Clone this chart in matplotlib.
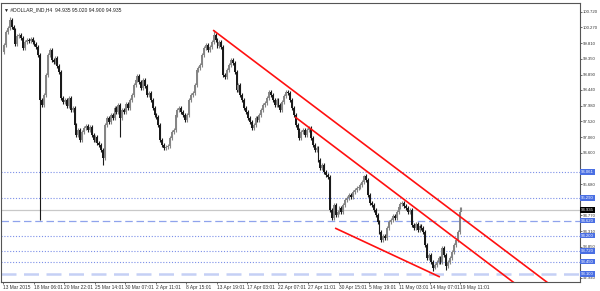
import numpy as np
import matplotlib
matplotlib.use("Agg")
from matplotlib import pyplot as plt
from matplotlib import transforms

plt.rcParams['font.family'] = ['Liberation Sans', 'DejaVu Sans']

# H4 closes, #DOLLAR_IND, 13 Mar 2015 -> 19 May 2015
closes = [99.75, 100.14, 100.25, 100.49, 100.28, 100.19, 99.78, 100.02, 100.05, 99.96,
          99.67, 99.84, 99.90, 99.87, 99.93, 99.84, 99.78, 99.70, 99.46, 98.15,
          98.00, 98.29, 98.88, 99.46, 99.61, 99.32, 99.26, 99.37, 99.14, 98.97,
          98.20, 98.09, 98.15, 97.97, 98.20, 97.85, 97.91, 97.41, 97.12, 97.27,
          96.98, 97.21, 97.33, 97.39, 97.27, 97.36, 97.12, 96.98, 97.06, 96.89,
          96.83, 96.68, 96.45, 97.41, 97.62, 97.50, 97.71, 97.62, 97.91, 97.80,
          98.00, 97.62, 97.85, 97.80, 98.03, 97.91, 98.15, 98.29, 98.58, 98.73,
          98.85, 98.67, 98.50, 98.73, 98.56, 98.29, 98.35, 98.15, 97.91, 97.71,
          97.65, 97.41, 96.98, 96.83, 96.74, 96.77, 96.80, 97.03, 97.21, 97.27,
          97.71, 97.85, 97.91, 97.80, 97.71, 97.56, 97.71, 98.15, 98.29, 98.35,
          98.58, 99.02, 99.08, 99.17, 99.46, 99.67, 99.75, 99.61, 99.70, 99.84,
          100.05, 99.90, 99.73, 99.84, 99.70, 98.88, 98.82, 99.02, 99.17, 99.32,
          99.23, 98.97, 98.44, 98.58, 98.29, 98.15, 97.91, 97.80, 97.62, 97.50,
          97.33, 97.41, 97.62, 97.56, 97.71, 97.85, 98.00, 98.06, 98.20, 98.38,
          98.29, 98.15, 98.00, 98.15, 98.00, 97.85, 98.09, 98.26, 98.38, 98.35,
          98.15, 97.91, 97.71, 97.41, 97.27, 97.03, 97.21, 97.27, 97.12, 97.27,
          97.33, 97.03, 96.83, 96.68, 96.74, 96.39, 96.16, 96.25, 96.04, 95.95,
          95.89, 94.93, 94.69, 95.08, 94.78, 94.87, 94.99, 94.87, 95.08, 95.22,
          95.28, 95.37, 95.31, 95.45, 95.51, 95.57, 95.60, 95.66, 95.75, 95.92,
          95.81, 95.37, 95.13, 95.08, 94.93, 94.78, 94.58, 94.29, 94.05, 94.17,
          94.11, 94.40, 94.58, 94.64, 94.75, 94.69, 94.87, 95.02, 95.10, 95.13,
          95.05, 94.99, 94.87, 94.93, 94.49, 94.40, 94.52, 94.34, 94.46, 94.40,
          94.29, 93.90, 93.52, 93.61, 93.41, 93.24, 93.32, 93.41, 93.52, 93.41,
          93.82, 93.61, 93.29, 93.41, 93.52, 93.70, 93.90, 94.05, 94.29, 94.87,
          94.935]
first_open = 99.55
# bars with long shadows
low_wicks = {19: 94.64, 52: 96.25, 61: 97.06, 225: 93.15, 232: 93.18, 240: 94.90}
high_wicks = {3: 100.57, 110: 100.19, 189: 95.95, 239: 95.02, 240: 95.02}

xlabels = ["13 Mar 2015", "18 Mar 06:01", "20 Mar 22:01", "25 Mar 14:01", "30 Mar 07:01",
           "2 Apr 11:01", "8 Apr 15:01", "13 Apr 19:01", "17 Apr 03:01", "22 Apr 07:01",
           "27 Apr 11:01", "30 Apr 15:01", "5 May 19:01", "11 May 03:01", "14 May 07:01",
           "19 May 11:01"]
yticks = [100.720, 100.270, 99.810, 99.350, 98.890, 98.440, 97.980, 97.520, 97.060,
          96.600, 96.140, 95.680, 95.220, 94.770, 94.310, 93.850, 93.390, 92.940]
# tick labels hidden under the price level tags
hidden_ticks = [96.140, 95.220, 93.390]

# horizontal levels drawn on the chart
levels = [96.040, 95.290, 94.620, 94.180, 93.720, 93.420, 93.060]
level_labels = ["96.061", "95.290", "94.620", "94.200", "93.720", "93.450", "93.100"]
level_styles = ["dot", "dot", "dash", "dot", "dot", "dot", "thick"]
last_price = 94.935

# trend lines: (bar, price) end points
trend_x = [[109.7, 291.7], [152.7, 273.3], [173.7, 228.7]]
trend_y = [[100.19, 92.53], [97.65, 92.56], [94.40, 92.97]]

closes = np.array(closes)
opens = np.concatenate([[first_open], closes[:-1]])
highs = np.maximum(opens, closes) + 0.05
lows = np.minimum(opens, closes) - 0.05
for k, v in low_wicks.items():
    lows[k] = v
for k, v in high_wicks.items():
    highs[k] = v
idx = np.arange(len(closes))

fig = plt.figure(figsize=(6, 2.91), dpi=100)
ax = fig.add_axes([1/600, 9/291, 579/600, 279/291])
ax.set_xlim(-1.57, 302.2)
ax.set_ylim(92.823, 100.983)

for lv, st in zip(levels, level_styles):
    if st == "dot":
        ax.axhline(lv, color="#7b8fe8", lw=0.8, ls=(0, (1, 1.6)), zorder=1)
    elif st == "dash":
        ax.axhline(lv, color="#8fa3ec", lw=0.9, ls=(0, (6, 3)), zorder=1)
    else:
        ax.axhline(lv, color="#c5d0f5", lw=1.8, ls=(0, (6, 3)), zorder=1)
ax.axhline(last_price, color="#c8c8c8", lw=0.9, zorder=1)

up = closes >= opens
cols = np.where(up, "#858585", "#1a1a1a")
ax.vlines(idx, lows, highs, colors=cols, lw=0.8, zorder=2)
ax.bar(idx, np.maximum(np.abs(closes - opens), 0.015), bottom=np.minimum(opens, closes),
       width=1.0, color=cols, lw=0, zorder=3)

for tx, ty in zip(trend_x, trend_y):
    ax.plot(tx, ty, color="#ff1010", lw=1.2, zorder=4, solid_capstyle="butt")

ax.text(0.006, 0.985, "\u25bc #DOLLAR_IND,H4  94.935 95.020 94.900 94.935", transform=ax.transAxes,
        fontsize=3.6, va="top", ha="left", color="#202020", family=["Liberation Sans", "DejaVu Sans"])

ax.yaxis.tick_right()
ax.set_yticks(yticks)
ax.set_yticklabels(["" if t in hidden_ticks else "%.3f" % t for t in yticks])
ax.set_xticks(np.arange(len(xlabels)) * 16 - 0.5)
ax.set_xticklabels(xlabels, ha="left")
ax.tick_params(axis="x", labelsize=3.5, length=1.5, width=0.5, pad=0.8, colors="#333333")
ax.tick_params(axis="y", labelsize=3.1, length=1.2, width=0.5, pad=0.6, colors="#333333")

trans = transforms.blended_transform_factory(ax.transAxes, ax.transData)
for lv, lab in zip(levels, level_labels):
    ax.text(1.002, lv, lab, transform=trans, fontsize=3.1, color="white", va="center", ha="left",
            bbox=dict(boxstyle="square,pad=0.2", fc="#4a6fe3", ec="none"), clip_on=False)
ax.text(1.002, last_price, "94.935", transform=trans, fontsize=3.1, color="white", va="center",
        ha="left", bbox=dict(boxstyle="square,pad=0.2", fc="black", ec="none"), clip_on=False)

for s in ax.spines.values():
    s.set_color("#555555")
    s.set_linewidth(0.8)

fig.savefig("out.png", dpi=100, facecolor="white")
